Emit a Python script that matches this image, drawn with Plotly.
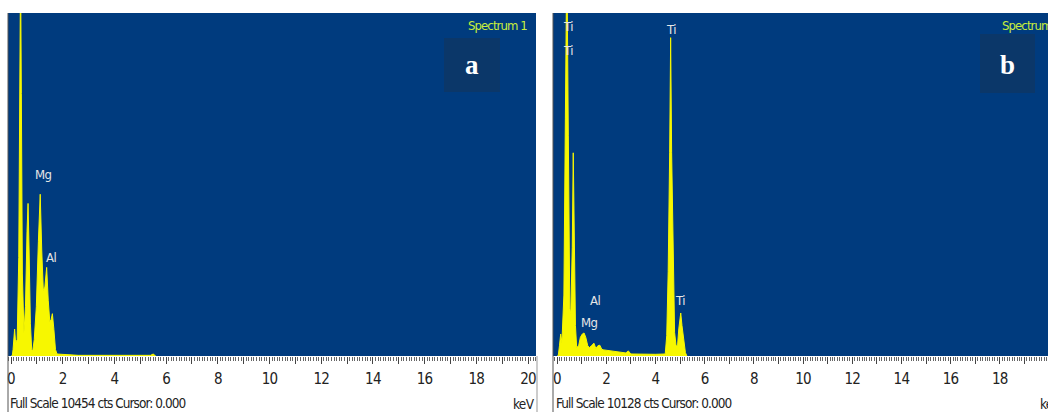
import plotly.graph_objects as go

# ---------------- data ----------------
energy_a = [0.0, 0.05, 0.08, 0.14, 0.18, 0.24, 0.30, 0.34, 0.37, 0.40, 0.44, 0.50, 0.56, 0.62, 0.66,
            0.70, 0.75, 0.80, 0.84, 0.90, 0.98, 1.06, 1.13, 1.19, 1.25, 1.31, 1.38, 1.44, 1.50,
            1.55, 1.60, 1.66, 1.72, 1.78, 2.2, 2.6, 5.4, 5.5, 5.6]
counts_a = [0, 0, 200, 820, 400, 500, 3000, 8000, 12000, 8000, 2500, 700, 1500, 3800, 4650,
            3200, 1000, 200, 150, 500, 1500, 3500, 4930, 3200, 2000, 2100, 2700, 1700, 1050,
            1100, 1290, 800, 200, 60, 50, 20, 20, 60, 0]

energy_b = [0.0, 0.05, 0.10, 0.15, 0.20, 0.28, 0.34, 0.40, 0.46, 0.52, 0.56, 0.62, 0.66, 0.70, 0.75,
            0.80, 0.88, 0.95, 1.03, 1.10, 1.17, 1.25, 1.32, 1.40, 1.50, 1.58, 1.66, 1.74, 1.82,
            1.90, 2.10, 2.40, 2.80, 2.90, 3.00, 4.00, 4.40, 4.46, 4.52, 4.58, 4.62, 4.66, 4.72,
            4.78, 4.84, 4.90, 4.95, 5.00, 5.03, 5.08, 5.15, 5.22, 5.28]
counts_b = [0, 0, 300, 650, 400, 1800, 7000, 12000, 6500, 1400, 1250, 3200, 6000, 3200, 900,
            250, 300, 550, 650, 680, 550, 300, 250, 300, 380, 220, 300, 320, 200,
            180, 160, 110, 90, 150, 60, 50, 60, 600, 2500, 6000, 9400, 6000, 2500,
            700, 300, 300, 800, 1200, 1270, 900, 400, 100, 0]

full_scale_a = 10454
full_scale_b = 10128

tick_vals = list(range(0, 21))
tick_text = [str(v) if v % 2 == 0 else "" for v in tick_vals]

labels_a = ["Mg", "Al"]
labels_a_x = [1.26, 1.55]
labels_a_y = [5533, 3011]

labels_b = ["Ti", "Ti", "Ti", "Al", "Mg", "Ti"]
labels_b_x = [0.45, 0.45, 4.63, 1.54, 1.32, 5.02]
labels_b_y = [9742, 9031, 9653, 1630, 980, 1630]

# ---------------- styling ----------------
W, H = 1048, 412
BLUE = "#003b7e"
YELLOW = "#f7f700"
FAM = "DejaVu Sans, Liberation Sans, sans-serif"


def cond(t, ls=-0.5):
    return f'<span style="font-stretch:condensed;letter-spacing:{ls}px">{t}</span>' if t else t


def px_x(p):
    return p / W


def px_y(p):
    return 1 - p / H


fig = go.Figure()

fig.add_trace(go.Scatter(x=energy_a, y=counts_a, mode="lines", fill="tozeroy",
                         line=dict(color=YELLOW, width=1), fillcolor=YELLOW,
                         xaxis="x", yaxis="y", hoverinfo="skip", showlegend=False))
fig.add_trace(go.Scatter(x=energy_b, y=counts_b, mode="lines", fill="tozeroy",
                         line=dict(color=YELLOW, width=1), fillcolor=YELLOW,
                         xaxis="x2", yaxis="y2", hoverinfo="skip", showlegend=False))

y_dom = [px_y(356), px_y(13)]
xa_dom = [px_x(8), px_x(536)]
xb_dom = [px_x(553), 1.0]

axis_common = dict(
    tickmode="array", tickvals=tick_vals, ticktext=[cond(t, -0.8) for t in tick_text],
    ticks="outside", ticklen=7, tickwidth=1, tickcolor="#444",
    minor=dict(dtick=0.1, ticks="outside", ticklen=4, tickcolor="#666", tickwidth=1),
    showgrid=False, zeroline=False, showline=False,
    tickfont=dict(family=FAM, size=15, color="#222"),
    ticklabelstandoff=2,
    fixedrange=True,
)

fig.update_layout(
    width=W, height=H, autosize=False,
    margin=dict(l=0, r=0, t=0, b=0),
    paper_bgcolor="white", plot_bgcolor=BLUE,
    xaxis=dict(domain=xa_dom, range=[(8 - 11) / 25.85, (536 - 11) / 25.85], anchor="y", **axis_common),
    yaxis=dict(domain=y_dom, range=[0, full_scale_a], anchor="x",
               showticklabels=False, showgrid=False, zeroline=False, ticks="", fixedrange=True),
    xaxis2=dict(domain=xb_dom, range=[(553 - 557) / 24.6, (1048 - 557) / 24.6], anchor="y2", **axis_common),
    yaxis2=dict(domain=y_dom, range=[0, full_scale_b], anchor="x2",
                showticklabels=False, showgrid=False, zeroline=False, ticks="", fixedrange=True),
)

ann = []
label_font = dict(family=FAM, size=13, color="#e6e6e6")
for t, x, y in zip(labels_a, labels_a_x, labels_a_y):
    ann.append(dict(text=cond(t), x=x, y=y, xref="x", yref="y", showarrow=False, font=label_font))
for t, x, y in zip(labels_b, labels_b_x, labels_b_y):
    ann.append(dict(text=cond(t), x=x, y=y, xref="x2", yref="y2", showarrow=False, font=label_font))

spec_font = dict(family=FAM, size=13, color="#c8ee3c")
ann.append(dict(text=cond("Spectrum 1", -0.9), x=px_x(529), y=px_y(26), xref="paper", yref="paper",
                xanchor="right", yanchor="middle", showarrow=False, font=spec_font))
ann.append(dict(text=cond("Spectrum 1", -0.9), x=px_x(1000), y=px_y(26), xref="paper", yref="paper",
                xanchor="left", yanchor="middle", showarrow=False, font=spec_font))

letter_font = dict(family="Liberation Serif, DejaVu Serif, serif", size=27, color="white")
ann.append(dict(text="<b>a</b>", x=px_x(472), y=px_y(65), xref="paper", yref="paper",
                xanchor="center", yanchor="middle", showarrow=False, font=letter_font))
ann.append(dict(text="<b>b</b>", x=px_x(1007), y=px_y(65), xref="paper", yref="paper",
                xanchor="center", yanchor="middle", showarrow=False, font=letter_font))

bottom_font = dict(family=FAM, size=13.5, color="#222")
ann.append(dict(text=cond(f"Full Scale {full_scale_a} cts Cursor: 0.000", -0.95), x=px_x(8), y=px_y(403),
                xref="paper", yref="paper", xanchor="left", yanchor="middle", showarrow=False, font=bottom_font))
ann.append(dict(text=cond("keV", -0.7), x=px_x(537), y=px_y(404), xref="paper", yref="paper",
                xanchor="right", yanchor="middle", showarrow=False, font=bottom_font))
ann.append(dict(text=cond(f"Full Scale {full_scale_b} cts Cursor: 0.000", -0.95), x=px_x(554), y=px_y(403),
                xref="paper", yref="paper", xanchor="left", yanchor="middle", showarrow=False, font=bottom_font))
ann.append(dict(text=cond("keV", -0.7), x=px_x(1038), y=px_y(404), xref="paper", yref="paper",
                xanchor="left", yanchor="middle", showarrow=False, font=bottom_font))
fig.update_layout(annotations=ann)

shapes = [
    dict(type="rect", xref="paper", yref="paper", x0=px_x(444), x1=px_x(500), y0=px_y(92), y1=px_y(38),
         fillcolor="#0b3769", line=dict(width=0), layer="above"),
    dict(type="rect", xref="paper", yref="paper", x0=px_x(980), x1=px_x(1035), y0=px_y(93), y1=px_y(34),
         fillcolor="#0b3769", line=dict(width=0), layer="above"),
    dict(type="line", xref="paper", yref="paper", x0=px_x(8), x1=px_x(8), y0=0, y1=px_y(13),
         line=dict(color="#555", width=1)),
    dict(type="line", xref="paper", yref="paper", x0=px_x(537), x1=px_x(537), y0=0, y1=px_y(356),
         line=dict(color="#999", width=1)),
    dict(type="line", xref="paper", yref="paper", x0=px_x(553), x1=px_x(553), y0=0, y1=px_y(13),
         line=dict(color="#555", width=1)),
]
fig.update_layout(shapes=shapes)

fig.write_html("out.html", config={"displayModeBar": False},
               post_script="document.body.style.margin='0';document.body.style.overflow='hidden';")
